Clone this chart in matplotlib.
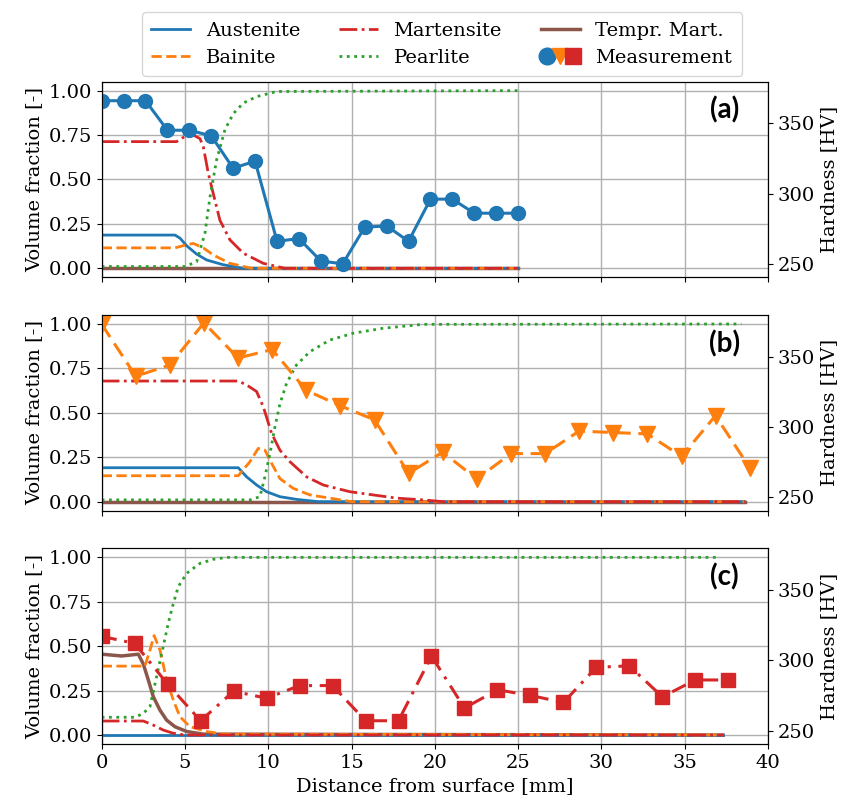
import numpy as np
import matplotlib.pyplot as plt
from matplotlib.lines import Line2D
from matplotlib.legend_handler import HandlerTuple

plt.rcParams['font.family'] = 'DejaVu Serif'
plt.rcParams['font.size'] = 14

# ---- model curves (volume fraction), panel (a)
aus_a_x = [0, 4.4, 4.7, 5.1, 5.7, 6.3, 7.3, 8.5, 25]
aus_a_y = [0.187, 0.187, 0.17, 0.127, 0.08, 0.047, 0.02, 0.0, 0.0]
bai_a_x = [0, 4.4, 5.0, 5.5, 6.1, 6.7, 7.7, 9.0, 25]
bai_a_y = [0.115, 0.115, 0.13, 0.14, 0.115, 0.075, 0.028, 0.0, 0.0]
mar_a_x = [0, 4.5, 5.3, 5.9, 6.1, 6.4, 6.7, 7.1, 7.7, 8.5, 9.7, 11, 25]
mar_a_y = [0.713, 0.713, 0.76, 0.73, 0.685, 0.535, 0.42, 0.27, 0.16, 0.085, 0.028, 0.0, 0.0]
pea_a_x = [0, 5.0, 5.7, 6.2, 6.5, 6.9, 7.4, 7.9, 8.5, 9.3, 10.5, 25]
pea_a_y = [0.01, 0.01, 0.037, 0.197, 0.40, 0.61, 0.78, 0.87, 0.93, 0.966, 0.995, 1.0]
tmp_a_x = [0, 25]
tmp_a_y = [0.0, 0.0]

# panel (b)
aus_b_x = [0, 8.2, 8.7, 9.3, 9.9, 10.7, 11.7, 13, 38.6]
aus_b_y = [0.191, 0.191, 0.14, 0.094, 0.056, 0.028, 0.013, 0.0, 0.0]
bai_b_x = [0, 8.2, 8.9, 9.4, 9.8, 10.2, 10.7, 11.5, 12.5, 13.7, 15, 38.6]
bai_b_y = [0.146, 0.146, 0.225, 0.30, 0.29, 0.216, 0.13, 0.075, 0.038, 0.02, 0.0, 0.0]
mar_b_x = [0, 8.2, 8.7, 9.3, 9.7, 10.2, 10.7, 11.3, 12.3, 13.3, 14.9, 16.3, 17.7, 19.3, 20.5, 38.6]
mar_b_y = [0.679, 0.679, 0.657, 0.62, 0.535, 0.385, 0.29, 0.225, 0.14, 0.094, 0.056, 0.038, 0.02, 0.01, 0.0, 0.0]
pea_b_x = [0, 8.9, 9.5, 9.8, 10.1, 10.4, 10.7, 11.1, 11.7, 12.5, 13.7, 15.1, 16.9, 19.3, 38.4]
pea_b_y = [0.01, 0.01, 0.028, 0.14, 0.27, 0.42, 0.55, 0.666, 0.77, 0.844, 0.91, 0.948, 0.976, 0.998, 1.0]
tmp_b_x = [0, 38.6]
tmp_b_y = [0.0, 0.0]

# panel (c)
aus_c_x = [0, 37.3]
aus_c_y = [0.0, 0.0]
bai_c_x = [0, 2.6, 2.9, 3.15, 3.5, 3.9, 4.3, 4.7, 5.3, 6.3, 7.3, 37.3]
bai_c_y = [0.388, 0.388, 0.478, 0.56, 0.478, 0.31, 0.197, 0.103, 0.047, 0.02, 0.005, 0.0]
mar_c_x = [0, 2.5, 3.1, 3.7, 4.3, 5.0, 37.3]
mar_c_y = [0.079, 0.079, 0.056, 0.028, 0.01, 0.0, 0.0]
pea_c_x = [0, 2.0, 2.5, 2.9, 3.3, 3.7, 4.0, 4.3, 4.6, 5.1, 5.9, 6.7, 7.5, 37.1]
pea_c_y = [0.10, 0.10, 0.122, 0.16, 0.33, 0.50, 0.63, 0.74, 0.835, 0.91, 0.966, 0.989, 1.0, 1.0]
tmp_c_x = [0, 1.2, 2.2, 2.5, 2.8, 3.1, 3.5, 3.9, 4.4, 5.1, 6.1, 37.3]
tmp_c_y = [0.455, 0.445, 0.455, 0.40, 0.31, 0.216, 0.14, 0.084, 0.047, 0.02, 0.005, 0.0]

# ---- hardness measurements [HV]
meas_a_x = [0, 1.32, 2.63, 3.95, 5.26, 6.58, 7.89, 9.21, 10.53, 11.84, 13.16, 14.47,
            15.79, 17.11, 18.42, 19.74, 21.05, 22.37, 23.68, 25.0]
meas_a_hv = [366, 366, 366, 345, 345, 341, 318, 323, 266, 268, 252, 250,
             276, 277, 266, 296, 296, 286, 286, 286]
meas_b_x = [0, 2.05, 4.09, 6.14, 8.19, 10.24, 12.28, 14.33, 16.38, 18.43, 20.47, 22.52,
            24.57, 26.62, 28.66, 30.71, 32.76, 34.81, 36.85, 38.9]
meas_b_hv = [373, 336, 344, 374, 349, 355, 326, 315, 305, 267, 282, 263,
             281, 281, 297, 296, 295, 279, 308, 271]
meas_c_x = [0, 1.98, 3.96, 5.94, 7.92, 9.9, 11.88, 13.86, 15.84, 17.82, 19.8, 21.78,
            23.76, 25.74, 27.72, 29.7, 31.68, 33.66, 35.64, 37.62]
meas_c_hv = [317, 312, 283, 257, 278, 273, 282, 282, 257, 257, 303, 266,
             279, 275, 270, 295, 296, 274, 286, 286]

C_AUS, C_BAI, C_PEA, C_MAR, C_TMP = '#1f77b4', '#ff7f0e', '#2ca02c', '#d62728', '#8c564b'

panels = [
    dict(aus=(aus_a_x, aus_a_y), bai=(bai_a_x, bai_a_y), mar=(mar_a_x, mar_a_y),
         pea=(pea_a_x, pea_a_y), tmp=(tmp_a_x, tmp_a_y),
         meas=(meas_a_x, meas_a_hv), mstyle=dict(color=C_AUS, ls='-', marker='o', ms=10),
         label='(a)'),
    dict(aus=(aus_b_x, aus_b_y), bai=(bai_b_x, bai_b_y), mar=(mar_b_x, mar_b_y),
         pea=(pea_b_x, pea_b_y), tmp=(tmp_b_x, tmp_b_y),
         meas=(meas_b_x, meas_b_hv), mstyle=dict(color=C_BAI, ls=(0, (5, 2.5)), marker='v', ms=11),
         label='(b)'),
    dict(aus=(aus_c_x, aus_c_y), bai=(bai_c_x, bai_c_y), mar=(mar_c_x, mar_c_y),
         pea=(pea_c_x, pea_c_y), tmp=(tmp_c_x, tmp_c_y),
         meas=(meas_c_x, meas_c_hv), mstyle=dict(color=C_MAR, ls=(0, (5, 2.5, 1, 2.5)), marker='s', ms=10),
         label='(c)'),
]

fig, axes = plt.subplots(3, 1, figsize=(8.43, 8.06), dpi=100, sharex=True)
fig.subplots_adjust(left=0.1206, right=0.911, top=0.8986, bottom=0.077, hspace=0.194)

for ax, p in zip(axes, panels):
    ax.plot(*p['tmp'], color=C_TMP, lw=2.5, zorder=2)
    ax.plot(*p['aus'], color=C_AUS, lw=2, ls='-', zorder=3)
    ax.plot(*p['bai'], color=C_BAI, lw=2, ls='--', zorder=3)
    ax.plot(*p['mar'], color=C_MAR, lw=2, ls='-.', zorder=3)
    ax.plot(*p['pea'], color=C_PEA, lw=2, ls=':', zorder=3)
    ax.set_xlim(0, 40)
    ax.set_ylim(-0.05, 1.05)
    ax.set_yticks([0, 0.25, 0.5, 0.75, 1.0])
    ax.set_xticks(np.arange(0, 41, 5))
    ax.grid(True, color='#b0b0b0', lw=1)
    ax.set_axisbelow(True)
    ax.set_ylabel('Volume fraction [-]')

    ax2 = ax.twinx()
    ax2.plot(*p['meas'], lw=2.2, **p['mstyle'])
    ax2.set_ylim(240.5, 379.5)
    ax2.set_yticks([250, 300, 350])
    ax2.set_ylabel('Hardness [HV]')
    ax2.text(0.935, 0.855, p['label'], transform=ax2.transAxes, ha='center', va='center',
             fontsize=20, fontweight='bold', family='Lato')

axes[-1].set_xlabel('Distance from surface [mm]')

h_aus = Line2D([], [], color=C_AUS, lw=2, ls='-')
h_bai = Line2D([], [], color=C_BAI, lw=2, ls='--')
h_mar = Line2D([], [], color=C_MAR, lw=2, ls='-.')
h_pea = Line2D([], [], color=C_PEA, lw=2, ls=':')
h_tmp = Line2D([], [], color=C_TMP, lw=2.5, ls='-')
m1 = Line2D([], [], color=C_AUS, ls='none', marker='o', ms=12)
m2 = Line2D([], [], color=C_BAI, ls='none', marker='v', ms=12)
m3 = Line2D([], [], color=C_MAR, ls='none', marker='s', ms=12)

fig.legend([h_aus, h_bai, h_mar, h_pea, h_tmp, (m1, m2, m3)],
           ['Austenite', 'Bainite', 'Martensite', 'Pearlite', 'Tempr. Mart.', 'Measurement'],
           handler_map={tuple: HandlerTuple(ndivide=None, pad=0)},
           loc='upper center', bbox_to_anchor=(0.524, 0.997), ncol=3, fontsize=14,
           handlelength=2.0, columnspacing=2.0, borderpad=0.5, labelspacing=0.45)

fig.savefig('out.png', dpi=100)
